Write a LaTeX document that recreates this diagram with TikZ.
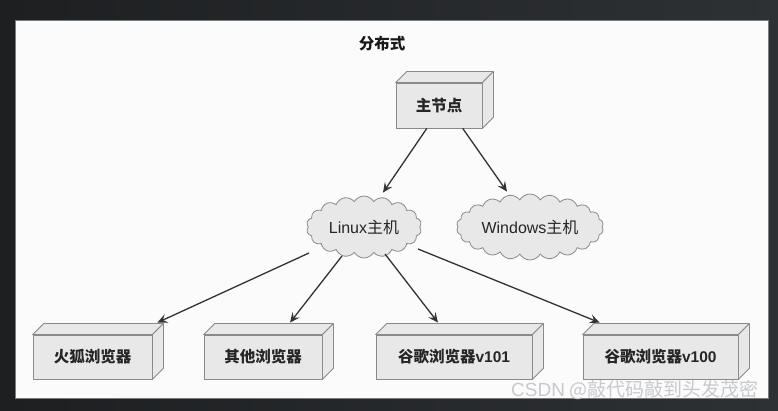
\documentclass[tikz,border=0pt]{standalone}
\usepackage{fontspec}
\usetikzlibrary{shapes.symbols,arrows.meta,calc}
\newfontfamily\cjk{Noto Sans CJK SC}
\newfontfamily\lat{Liberation Sans}
\definecolor{bgL}{HTML}{1D1F21}
\definecolor{bgR}{HTML}{2E3134}
\definecolor{panel}{HTML}{FBFBFC}
\definecolor{panelline}{HTML}{7A7C80}
\definecolor{boxfill}{HTML}{E8E8E8}
\definecolor{boxline}{HTML}{8A8A8A}
\definecolor{arrowc}{HTML}{333333}
\definecolor{wmark}{HTML}{C8C9CC}
\begin{document}
\begin{tikzpicture}[x=1pt,y=1pt,
  boxface/.style={draw=boxline, fill=boxfill, line width=0.8pt, inner sep=0pt,
    font=\cjk\bfseries\fontsize{15.5}{18}\selectfont, text=black!85},
  boxside/.style={draw=boxline, fill=boxfill, line width=0.8pt, line join=round},
  cloudnode/.style={cloud, cloud ignores aspect, draw=boxline, fill=boxfill, line width=0.8pt, inner sep=0pt,
    cloud puff arc=120, font=\cjk\fontsize{16}{19}\selectfont, text=black!85},
  arr/.style={-{Stealth[length=10pt,width=9pt,inset=4pt]}, line width=1.3pt, draw=arrowc}
]
\useasboundingbox (0,0) rectangle (778,411);
\shade[left color=bgL, right color=bgR] (0,0) rectangle (778,411);
\draw[fill=panel, draw=panelline, line width=0.8pt] (15,13) rectangle (768,391);

\node[font=\cjk\bfseries\fontsize{15.5}{18}\selectfont, text=black!90] (title) at (382,367) {分布式};

\node[boxface, minimum width=86, minimum height=45] (main) at (439,305.5) {主节点};
\node[boxface, minimum width=119, minimum height=44] (ff) at (92.5,54) {火狐浏览器};
\node[boxface, minimum width=118, minimum height=44] (other) at (263,54) {其他浏览器};
\node[boxface, minimum width=156, minimum height=44] (g101) at (454,54) {谷歌浏览器{\lat v101}};
\node[boxface, minimum width=155, minimum height=44] (g100) at (660.5,54) {谷歌浏览器{\lat v100}};

\foreach \n in {main,ff,other,g101,g100}{
  \draw[boxside] (\n.north west) -- ++(11,11) -- ($(\n.north east)+(11,11)$) -- (\n.north east) -- cycle;
  \draw[boxside] (\n.north east) -- ++(11,11) -- ($(\n.south east)+(11,11)$) -- (\n.south east) -- cycle;
}

\node[cloudnode, cloud puffs=18, minimum width=115, minimum height=62] (linux) at (364,184) {{\lat Linux}主机};
\node[cloudnode, cloud puffs=22, minimum width=147, minimum height=66] (win) at (530,184) {{\lat Windows}主机};

\draw[arr] (main.-118) -- ($(linux.north)+(19,3)$);
\draw[arr] (main.-44) -- ($(win.north)+(-23,2)$);

\draw[arr] ($(linux.center)+(-55,-26)$) -- ($(ff.north east)+(5,12)$);
\draw[arr] ($(linux.center)+(-22,-29)$) -- ($(other.north)+(27,12)$);
\draw[arr] ($(linux.center)+(21,-27)$) -- ($(g101.north)+(-16,12)$);
\draw[arr] ($(linux.center)+(54,-22)$) -- ($(g100.north west)+(17,12)$);

\node[anchor=west, font=\cjk\fontsize{19}{22}\selectfont, text=wmark, inner sep=0pt] (wm) at (511,21) {{\lat CSDN} @敲代码敲到头发茂密};
\end{tikzpicture}
\end{document}
